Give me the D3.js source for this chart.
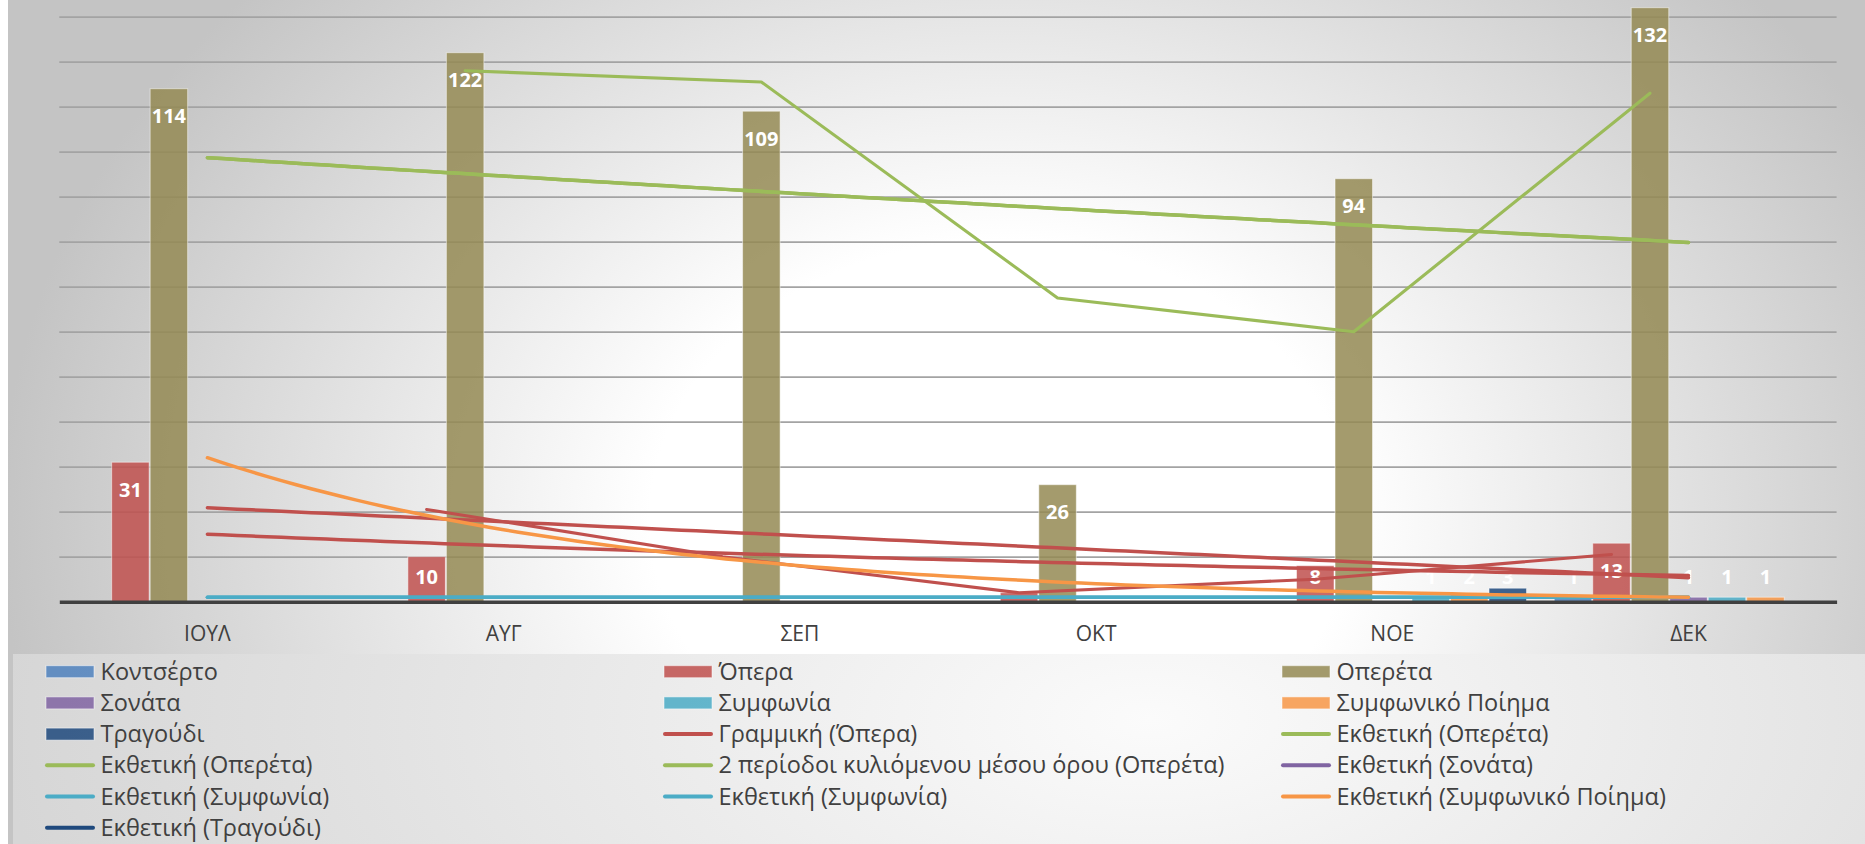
<!DOCTYPE html>
<html>
<head>
<meta charset="utf-8">
<script src="https://cdnjs.cloudflare.com/ajax/libs/d3/7.8.5/d3.min.js"></script>
<style>
body { margin: 0; background: #fff; }
svg { display: block; }
text { font-family: "Open Sans", "Noto Sans", sans-serif; }
</style>
</head>
<body>
<svg id="chart"></svg>
<script>
// months and series
var months = ['ΙΟΥΛ', 'ΑΥΓ', 'ΣΕΠ', 'ΟΚΤ', 'ΝΟΕ', 'ΔΕΚ'];
var seriesNames = ['Κοντσέρτο', 'Όπερα', 'Οπερέτα', 'Σονάτα', 'Συμφωνία', 'Συμφωνικό Ποίημα', 'Τραγούδι'];

// values per month (null = empty cell)
var kontserto  = [null, null, null, null, null, 1];
var opera      = [31, 10, null, 2, 8, 13];
var opereta    = [114, 122, 109, 26, 94, 132];
var sonata     = [null, null, null, null, null, 1];
var symfonia   = [null, null, null, null, 1, 1];
var symfPoiima = [null, null, null, null, 2, 1];
var tragoudi   = [null, null, null, null, 3, null];

var yTicks = [10, 20, 30, 40, 50, 60, 70, 80, 90, 100, 110, 120, 130, 140];

var seriesValues = [kontserto, opera, opereta, sonata, symfonia, symfPoiima, tragoudi];
var seriesColors = ['#4f81bd', '#c0504d', '#948a54', '#8064a2', '#4bacc6', '#f79646', '#1f497d'];

// trendlines (fit type, source series)
var trends = [
    {label: 'Γραμμική (Όπερα)', fit: 'linear', data: opera, color: '#c0504d'},
    {label: 'Εκθετική (Οπερέτα)', fit: 'exp', data: opereta, color: '#9bbb59'},
    {label: 'Εκθετική (Οπερέτα)', fit: 'exp', data: opereta, color: '#9bbb59'},
    {label: '2 περίοδοι κυλιόμενου μέσου όρου (Οπερέτα)', fit: 'ma', data: opereta, series: 'Οπερέτα', color: '#9bbb59'},
    {label: 'Εκθετική (Σονάτα)', fit: 'exp', data: sonata, color: '#8064a2'},
    {label: 'Εκθετική (Συμφωνία)', fit: 'exp', data: symfonia, color: '#4bacc6'},
    {label: 'Εκθετική (Συμφωνία)', fit: 'exp', data: symfonia, color: '#4bacc6'},
    {label: 'Εκθετική (Συμφωνικό Ποίημα)', fit: 'exp', data: symfPoiima, color: '#f79646'},
    {label: 'Εκθετική (Τραγούδι)', fit: 'exp', data: tragoudi, color: '#1f497d'}
];
// extra red lines drawn on the chart but missing from the legend
var extraTrends = [
    {fit: 'exp', data: opera, color: '#c0504d'},
    {fit: 'ma', data: opera, series: 'Όπερα', color: '#c0504d'}
];

var W = 1865, H = 844;
var svg = d3.select('#chart').attr('width', W).attr('height', H);

var defs = svg.append('defs');
var g1 = defs.append('radialGradient').attr('id', 'bgGrad')
    .attr('gradientUnits', 'userSpaceOnUse')
    .attr('cx', 1000).attr('cy', 520).attr('r', 1000)
    .attr('gradientTransform', 'translate(1000,520) scale(1,0.8) translate(-1000,-520)');
g1.append('stop').attr('offset', 0).attr('stop-color', '#ffffff');
g1.append('stop').attr('offset', 0.35).attr('stop-color', '#ffffff');
g1.append('stop').attr('offset', 1).attr('stop-color', '#c4c4c4');

var g2 = defs.append('radialGradient').attr('id', 'legGrad')
    .attr('gradientUnits', 'userSpaceOnUse')
    .attr('cx', 1150).attr('cy', 720).attr('r', 1150)
    .attr('gradientTransform', 'translate(1150,720) scale(1,0.5) translate(-1150,-720)');
g2.append('stop').attr('offset', 0).attr('stop-color', '#fbfbfb');
g2.append('stop').attr('offset', 1).attr('stop-color', '#d6d6d6');

svg.append('rect').attr('x', 8).attr('y', 0).attr('width', W - 8).attr('height', H).attr('fill', 'url(#bgGrad)');
svg.append('rect').attr('x', 13).attr('y', 654).attr('width', W - 13).attr('height', H - 654).attr('fill', 'url(#legGrad)');

// scales
var x = d3.scaleBand().domain(months).range([59.3, 1836.6]);
var xs = d3.scaleBand().domain(seriesNames).range([0, x.bandwidth()]).paddingOuter(0.347);
var y = d3.scaleLinear().domain([0, 140]).range([601.7, 601.7 - 630]);

// gridlines
svg.append('g')
    .attr('transform', 'translate(59.3,0)')
    .call(d3.axisLeft(y).tickValues(yTicks).tickSize(-(1836.6 - 59.3)).tickFormat(''))
    .call(function(g) { g.select('.domain').remove(); })
    .selectAll('line').attr('stroke', '#a3a3a3').attr('stroke-width', 1.7);

// bars
var bars = [];
seriesNames.forEach(function(s, si) {
    seriesValues[si].forEach(function(v, mi) {
        if (v) bars.push({series: s, month: months[mi], value: v, color: seriesColors[si]});
    });
});

svg.append('g').selectAll('rect').data(bars).join('rect')
    .attr('x', function(d) { return x(d.month) + xs(d.series) + 0.5; })
    .attr('y', function(d) { return y(d.value); })
    .attr('width', xs.bandwidth() - 1)
    .attr('height', function(d) { return y(0) - y(d.value); })
    .attr('fill', function(d) { return d.color; })
    .attr('fill-opacity', 0.85)
    .attr('stroke', '#ffffff').attr('stroke-opacity', 0.5).attr('stroke-width', 1);

// x axis
var xAxis = svg.append('g')
    .attr('transform', 'translate(0,' + y(0) + ')')
    .call(d3.axisBottom(x).tickSize(0).tickSizeOuter(0).tickPadding(0));
xAxis.select('.domain').attr('stroke', '#404040').attr('stroke-width', 3.4);
xAxis.selectAll('text')
    .attr('dy', null).attr('y', 39)
    .attr('fill', '#404040')
    .style('font-size', '21px');

// data labels
svg.append('g').selectAll('text').data(bars).join('text')
    .attr('x', function(d) { return x(d.month) + xs(d.series) + xs.bandwidth() / 2; })
    .attr('y', function(d) { return Math.min(y(d.value) + 27.4, 577) + 7; })
    .attr('text-anchor', 'middle')
    .attr('fill', '#ffffff')
    .style('font-size', '20px').style('font-weight', 'bold')
    .text(function(d) { return d.value; });

// trendline helpers
function fitLine(pts, fit) {
    var mx = d3.mean(pts, function(p) { return p[0]; });
    var my = d3.mean(pts, function(p) { return p[1]; });
    var sxy = d3.sum(pts, function(p) { return (p[0] - mx) * (p[1] - my); });
    var sxx = d3.sum(pts, function(p) { return (p[0] - mx) * (p[0] - mx); });
    var b = sxy / sxx;
    var a = my - b * mx;
    return function(t) { return fit === 'exp' ? Math.exp(a + b * t) : a + b * t; };
}

var tX = d3.scaleLinear().domain([1, months.length])
    .range([x(months[0]) + x.bandwidth() / 2, x(months[months.length - 1]) + x.bandwidth() / 2]);
var line = d3.line().x(function(d) { return d[0]; }).y(function(d) { return y(d[1]); });

function trendPoints(tr) {
    if (tr.fit === 'ma') {
        var out = [];
        for (var i = 1; i < tr.data.length; i++) {
            var vals = [tr.data[i - 1], tr.data[i]].filter(function(v) { return v != null; });
            if (vals.length) out.push([x(months[i]) + xs(tr.series) + xs.bandwidth() / 2, d3.mean(vals)]);
        }
        return out;
    }
    var pts = [];
    tr.data.forEach(function(v, i) {
        if (v != null && (tr.fit !== 'exp' || v > 0)) pts.push([i + 1, tr.fit === 'exp' ? Math.log(v) : v]);
    });
    // a single point gives no trendline
    if (pts.length < 2) return [];
    var f = fitLine(pts, tr.fit);
    return d3.range(1, months.length + 0.001, 0.05).map(function(t) { return [tX(t), f(t)]; });
}

var trendLayer = svg.append('g');
extraTrends.concat(trends).forEach(function(tr) {
    var pts = trendPoints(tr);
    if (pts.length < 2) return;
    trendLayer.append('path')
        .attr('d', line(pts))
        .attr('fill', 'none')
        .attr('stroke', tr.color)
        .attr('stroke-width', tr.fit === 'ma' ? 3.1 : 3.5)
        .attr('stroke-linecap', 'round')
        .attr('stroke-linejoin', 'round');
});

// legend
var legendItems = seriesNames.map(function(s, i) { return {label: s, kind: 'bar', color: seriesColors[i]}; })
    .concat(trends.map(function(tr) { return {label: tr.label, kind: 'line', color: tr.color}; }));

var leg = svg.append('g').selectAll('g').data(legendItems).join('g')
    .attr('transform', function(d, i) { return 'translate(' + (46 + (i % 3) * 618) + ',' + (671.7 + Math.floor(i / 3) * 31.2) + ')'; });

leg.filter(function(d) { return d.kind === 'bar'; }).append('rect')
    .attr('x', 0).attr('y', -6).attr('width', 48).attr('height', 12)
    .attr('fill', function(d) { return d.color; }).attr('fill-opacity', 0.85)
    .attr('stroke', '#ffffff').attr('stroke-opacity', 0.5);
leg.filter(function(d) { return d.kind === 'line'; }).append('line')
    .attr('x1', 1).attr('x2', 47).attr('y1', 0).attr('y2', 0)
    .attr('stroke', function(d) { return d.color; }).attr('stroke-width', 4)
    .attr('stroke-linecap', 'round');
leg.append('text')
    .attr('x', 54.5).attr('y', 8)
    .attr('fill', '#404040')
    .style('font-size', '23.5px')
    .text(function(d) { return d.label; });
</script>
</body>
</html>
